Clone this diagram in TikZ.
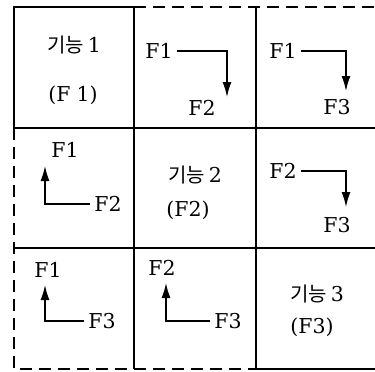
\documentclass[tikz,border=0pt]{standalone}
\usepackage{fontspec}
\setmainfont{DejaVu Serif}
\newfontfamily\krfont{Noto Sans CJK KR}
\usetikzlibrary{arrows.meta, positioning}
\newcommand{\gineung}[1]{{\krfont\fontsize{20}{22}\selectfont 기능}\hspace{4pt}#1}
\tikzset{
  gridline/.style={line width=1.8pt, black},
  dashline/.style={line width=1.8pt, black, dash pattern=on 12pt off 7pt},
  arr/.style={-{Latex[length=15pt, width=9pt]}, line width=1.5pt, black},
}

\begin{document}
\begin{tikzpicture}[
    x=1pt, y=-1pt,
    every node/.style={font=\fontsize{20.5}{23}\selectfont, inner sep=4pt},
  ]
  \useasboundingbox (0,0) rectangle (375,372);

  % Grid
  \draw[gridline] (14,128) -- (14,7) -- (134,7);
  \foreach \x in {134, 256} \draw[gridline] (\x,7) -- (\x,369);
  \foreach \y in {128, 248} \draw[gridline] (14,\y) -- (375,\y);
  \draw[gridline] (256,369) -- (375,369);
  \draw[dashline] (134,7) -- (375,7);
  \draw[dashline] (14,128) -- (14,369) -- (256,369);

  % Functions on the diagonal
  \node (fn1) at (74,45) {\gineung{1}};
  \node (fn1b) at (73,95) {(F\hspace{6pt}1)};
  \node (fn2) at (195,175) {\gineung{2}};
  \node (fn2b) at (188,210) {(F2)};
  \node (fn3) at (317,294) {\gineung{3}};
  \node (fn3b) at (312,327) {(F3)};

  % F1 -> F2
  \node (a1) at (159,51) {F1};
  \node (a2) at (202,108) {F2};
  \coordinate (a2tip) at (227,97);
  \draw[arr] (a1.east) -| (a2tip);

  % F1 -> F3
  \node (b1) at (283,51) {F1};
  \node (b3) at (337,107) {F3};
  \coordinate (b3tip) at (346,91);
  \draw[arr] (b1.east) -| (b3tip);

  % F2 -> F1
  \node (c1) at (65,150) {F1};
  \node (c2) at (108,204) {F2};
  \coordinate (c1tip) at (45,166);
  \draw[arr] (c2.west) -| (c1tip);

  % F2 -> F3
  \node (d2) at (283,171) {F2};
  \node (d3) at (337,225) {F3};
  \coordinate (d3tip) at (346,207);
  \draw[arr] (d2.east) -| (d3tip);

  % F3 -> F1
  \node (e1) at (48,270) {F1};
  \node (e3) at (102,321) {F3};
  \coordinate (e1tip) at (45,285);
  \draw[arr] (e3.west) -| (e1tip);

  % F3 -> F2
  \node (g2) at (162,268) {F2};
  \node (g3) at (228,321) {F3};
  \coordinate (g2tip) at (166,283);
  \draw[arr] (g3.west) -| (g2tip);
\end{tikzpicture}
\end{document}
